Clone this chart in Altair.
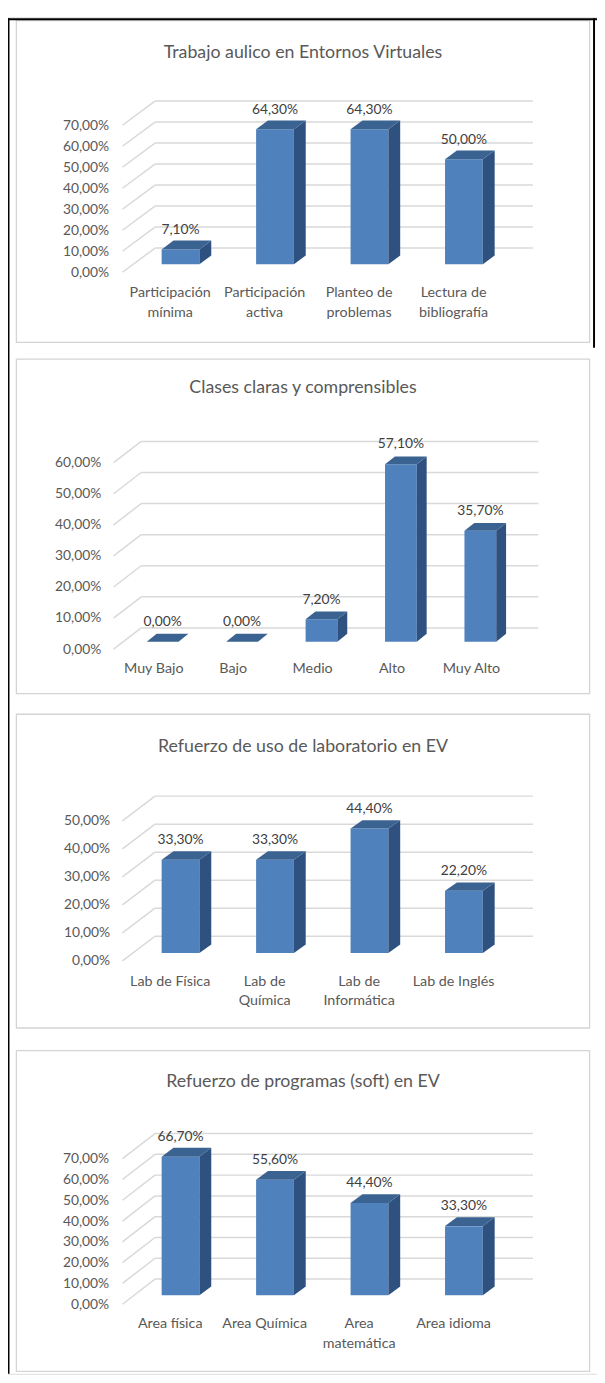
import json
import altair as alt
import pandas as pd

# ---------------- data ----------------
TITLES = [
    "Trabajo aulico en Entornos Virtuales",
    "Clases claras y comprensibles",
    "Refuerzo de uso de laboratorio en EV",
    "Refuerzo de programas (soft) en EV",
]
cats1 = ["Participación mínima", "Participación activa", "Planteo de problemas", "Lectura de bibliografía"]
vals1 = [7.1, 64.3, 64.3, 50.0]
cats2 = ["Muy Bajo", "Bajo", "Medio", "Alto", "Muy Alto"]
vals2 = [0.0, 0.0, 7.2, 57.1, 35.7]
cats3 = ["Lab de Física", "Lab de Química", "Lab de Informática", "Lab de Inglés"]
vals3 = [33.3, 33.3, 44.4, 22.2]
cats4 = ["Area física", "Area Química", "Area matemática", "Area idioma"]
vals4 = [66.7, 55.6, 44.4, 33.3]
# category labels as shown ('|' = line break)
labels1 = ["Participación|mínima", "Participación|activa", "Planteo de|problemas", "Lectura de|bibliografía"]
labels2 = ["Muy Bajo", "Bajo", "Medio", "Alto", "Muy Alto"]
labels3 = ["Lab de Física", "Lab de|Química", "Lab de|Informática", "Lab de Inglés"]
labels4 = ["Area física", "Area Química", "Area|matemática", "Area idioma"]
tick_max = [70, 60, 50, 70]  # y-axis maximum (%) per panel, step 10

CATS = [cats1, cats2, cats3, cats4]
VALS = [vals1, vals2, vals3, vals4]
LABELS = [labels1, labels2, labels3, labels4]

# ---------------- style / layout ----------------
FONT = "Lato"
TXT = "#595959"
VAL_TXT = "#404040"
GRID = "#d9d9d9"
BOX = "#d4d4d4"
FRONT = "#4f81bd"
TOP = "#3b6391"
SIDE = "#2e5180"
W, H = 597, 1375
BOX_X = (8.5, 589.5)
TITLE_X = 299

LAYOUT = [
    dict(box=(3.5, 329.5), xl=116, xr=499, y0=258.5, yt=109.5, wall=(33, -24.5),
         plane=(11, -8), depth=(12, -9), ylab=102, xlab=279, title_y=36),
    dict(box=(346.5, 685.5), xl=107, xr=509.5, y0=640.5, yt=451.5, wall=(28, -21.5),
         plane=(9.5, -7.5), depth=(10, -8), ylab=94, xlab=660, title_y=376),
    dict(box=(706.5, 1024.5), xl=116, xr=499, y0=956.5, yt=814.5, wall=(33, -25),
         plane=(11, -8), depth=(12, -8.5), ylab=103, xlab=977, title_y=740),
    dict(box=(1047.5, 1372.5), xl=116, xr=499, y0=1304.5, yt=1157, wall=(33, -25.5),
         plane=(11, -9), depth=(12, -9), ylab=102, xlab=1324, title_y=1079),
]

PCT_EXPR = "replace(format({f}, '.2f'), '.', ',') + '%'"
ONE = pd.DataFrame({"k": [0]})


def panel(k):
    L = LAYOUT[k]
    cats, vals, labels, tmax = CATS[k], VALS[k], LABELS[k], tick_max[k]
    n = len(cats)
    ticks = list(range(0, tmax + 1, 10))
    step = (L["xr"] - L["xl"]) / n
    ppu = (L["y0"] - L["yt"]) / tmax
    ddx = L["depth"][0] / step
    ddy = -L["depth"][1] / ppu
    hw = 0.2
    pdx, pdy = L["plane"]
    wdx, wdy = L["wall"]

    xs = alt.Scale(domain=[-0.5, n - 0.5], range=[L["xl"], L["xr"]], nice=False, zero=False)
    ys = alt.Scale(domain=[0, tmax], range=[L["y0"], L["yt"]], nice=False, zero=False)

    xaxis = alt.Axis(
        orient="bottom", values=list(range(n)), zindex=2,
        labelExpr="split(" + json.dumps(labels, ensure_ascii=False) + "[datum.value], '|')",
        title=None, domain=False, ticks=False, tickSize=0, grid=False,
        labelPadding=0, offset=(L["xlab"] - 7) - H,
        labelFont=FONT, labelFontSize=14.5, labelColor=TXT, labelLineHeight=20,
        labelFlush=False, labelOverlap=False, labelBaseline="top", labelAlign="center",
    )
    yaxis = alt.Axis(
        orient="left", values=ticks, zindex=2, labelExpr=PCT_EXPR.format(f="datum.value"),
        title=None, domain=False, ticks=False, tickSize=0, grid=False,
        labelPadding=0, offset=-L["ylab"],
        labelFont=FONT, labelFontSize=14, labelColor=TXT,
        labelAlign="right", labelBaseline="middle", labelFlush=False, labelOverlap=False,
    )

    def X(f):
        return alt.X(f, scale=xs, axis=xaxis)

    def Y(f):
        return alt.Y(f, scale=ys, axis=yaxis)

    bars = pd.DataFrame({"cat": cats, "i": list(range(n)), "v": vals})
    bars["x0"] = bars["i"] - hw
    bars["x1"] = bars["i"] + hw
    bars["base"] = 0.0

    top_rows, side_rows = [], []
    for i, v in enumerate(vals):
        top_rows.append(dict(cat=cats[i], yy=v, xa=i - hw, xb=i + hw))
        top_rows.append(dict(cat=cats[i], yy=v + ddy, xa=i - hw + ddx, xb=i + hw + ddx))
        side_rows.append(dict(cat=cats[i], xx=i + hw, ya=0.0, yb=v))
        side_rows.append(dict(cat=cats[i], xx=i + hw + ddx, ya=ddy, yb=v + ddy))
    tops = pd.DataFrame(top_rows)
    sides = pd.DataFrame(side_rows)
    grid = pd.DataFrame({"t": ticks, "xa": -0.5, "xb": n - 0.5})

    diag = alt.Chart(grid).mark_rule(color=GRID, strokeWidth=1.5, x2Offset=wdx, y2Offset=wdy).encode(
        x=X("xa:Q"), x2=alt.X2("xa"), y=Y("t:Q"), y2=alt.Y2("t"))
    back = alt.Chart(grid).mark_rule(color=GRID, strokeWidth=1.5, xOffset=wdx, x2Offset=wdx, yOffset=wdy).encode(
        x=X("xa:Q"), x2=alt.X2("xb"), y=Y("t:Q"))
    front = alt.Chart(bars).mark_rect(color=FRONT, xOffset=pdx, x2Offset=pdx, yOffset=pdy, y2Offset=pdy).encode(
        x=X("x0:Q"), x2=alt.X2("x1"), y=Y("base:Q"), y2=alt.Y2("v"))
    side = alt.Chart(sides).mark_area(orient="vertical", color=SIDE, xOffset=pdx, yOffset=pdy, y2Offset=pdy).encode(
        x=X("xx:Q"), y=alt.Y("ya:Q", scale=ys, axis=yaxis, stack=None), y2=alt.Y2("yb"),
        detail="cat:N")
    top = alt.Chart(tops).mark_area(orient="horizontal", color=TOP, xOffset=pdx, x2Offset=pdx, yOffset=pdy).encode(
        y=Y("yy:Q"), x=alt.X("xa:Q", scale=xs, axis=xaxis, stack=None), x2=alt.X2("xb"),
        detail="cat:N")
    text = alt.Chart(bars).transform_calculate(
        lab=PCT_EXPR.format(f="datum.v")
    ).mark_text(font=FONT, fontSize=14, color=VAL_TXT, dx=pdx, dy=pdy - 20,
                baseline="middle", align="center").encode(
        x=X("i:Q"), y=Y("v:Q"), text="lab:N")

    return alt.layer(diag, back, front, side, top, text)


def box(k):
    y1, y2 = LAYOUT[k]["box"]
    return alt.Chart(ONE).mark_rect(filled=False, color=BOX, strokeWidth=1.3).encode(
        x=alt.value(BOX_X[0]), x2=alt.value(BOX_X[1]), y=alt.value(y1), y2=alt.value(y2))


def title(k):
    return alt.Chart(pd.DataFrame({"t": [TITLES[k]]})).mark_text(
        font=FONT, fontSize=18, color=TXT, align="center", baseline="middle"
    ).encode(x=alt.value(TITLE_X), y=alt.value(LAYOUT[k]["title_y"]), text="t:N")


def black(x1, x2, y1, y2):
    return alt.Chart(ONE).mark_rect(color="black").encode(
        x=alt.value(x1), x2=alt.value(x2), y=alt.value(y1), y2=alt.value(y2))


layers = [box(k) for k in range(4)]
layers += [black(0, 1.5, 1, H), black(0, W, 1, 3), black(593, 595, 1, 335)]
layers += [title(k) for k in range(4)]
layers += [panel(k) for k in range(4)]

chart = alt.layer(*layers).resolve_scale(
    x="independent", y="independent"
).properties(
    width=W, height=H, padding=0, autosize=alt.AutoSizeParams(type="none")
).configure_view(stroke="transparent").configure(font=FONT)

chart.save("out.html", embed_options={"renderer": "svg", "actions": False})
